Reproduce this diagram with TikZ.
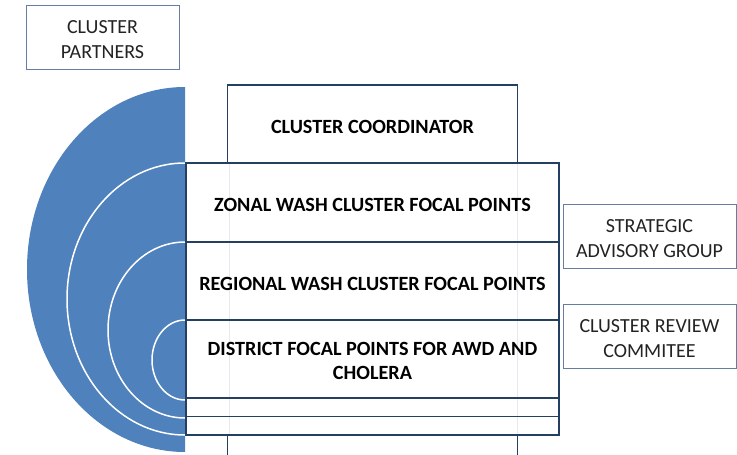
\documentclass[tikz,border=0pt]{standalone}
\usepackage{fontspec}
\setmainfont{Carlito}
\usepackage{xcolor}
\usepackage{tikz}
\usetikzlibrary{positioning}
\pgfdeclarelayer{background}
\pgfsetlayers{background,main}
\definecolor{tierblue}{RGB}{79,129,189}
\definecolor{tierline}{RGB}{36,63,98}
\definecolor{sideline}{RGB}{100,125,160}
\definecolor{ghost}{RGB}{230,234,240}
\definecolor{sidetext}{RGB}{35,35,35}

\begin{document}
\begin{tikzpicture}[x=1pt, y=-1pt,
	tier/.style={draw=tierline, line width=1.8pt, outer sep=0pt, inner sep=0pt, minimum width=373pt, minimum height=78pt},
	strip/.style={tier, minimum height=18.5pt},
	tiertext/.style={align=center, yshift=-2.5pt, font=\fontsize{20.2}{24}\selectfont\bfseries},
	side/.style={draw=sideline, line width=1pt, fill=white, outer sep=0pt, inner sep=0pt, minimum width=173pt, minimum height=64pt},
	sidetext/.style={align=center, yshift=-3pt, text=sidetext, font=\fontsize{20}{25}\selectfont}]
			\useasboundingbox (0,0) rectangle (737,455);
			\clip (0,0) rectangle (737,455);
			
			%%			blue half disc with the white rings
			\fill[tierblue] (185,87) arc[start angle=90, end angle=270, x radius=158pt, y radius=182.5pt] -- cycle;
			\draw[white, line width=1.5pt] (185,163) arc[start angle=90, end angle=270, x radius=118pt, y radius=136pt];
			\draw[white, line width=1.5pt] (185,242) arc[start angle=90, end angle=270, x radius=77pt, y radius=88pt];
			\draw[white, line width=1.5pt] (185,320) arc[start angle=90, end angle=270, x radius=33pt, y radius=40pt];
			
			\node[side, minimum width=153pt, label={[sidetext]center:CLUSTER\\PARTNERS}](partners) at (102.5,37) {};
			
			\node[tier, minimum height=79pt, label={[tiertext]center:ZONAL WASH CLUSTER FOCAL POINTS}](zonal) at (372.5,202.5) {};
			\node[tier, above=0pt of zonal, minimum width=290pt, label={[tiertext]center:CLUSTER COORDINATOR}](coord) {};
			\node[tier, below=0pt of zonal, label={[tiertext]center:REGIONAL WASH CLUSTER FOCAL POINTS}](regional) {};
			\node[tier, below=0pt of regional, label={[tiertext, yshift=1pt]center:DISTRICT FOCAL POINTS FOR AWD AND\\CHOLERA}](district) {};
			\node[strip, below=0pt of district](s1) {};
			\node[strip, below=0pt of s1](s2) {};
			\node[tier, below=0pt of s2, minimum width=290pt](base) {};
			
			%%			faint outline of the narrow boxes seen through the wide ones
			\begin{pgfonlayer}{background}
			\draw[ghost, line width=1pt] ([xshift=2pt]coord.south west) -- ([xshift=2pt]base.north west);
			\draw[ghost, line width=1pt] (coord.south east) -- (base.north east);
			\end{pgfonlayer}
			
			\node[side, label={[sidetext]center:STRATEGIC\\ADVISORY GROUP}](sag) at (649.5,236) {};
			\node[side, below=36pt of sag, label={[sidetext]center:CLUSTER REVIEW\\COMMITEE}](crc) {};
			
			\end{tikzpicture}
\end{document}
